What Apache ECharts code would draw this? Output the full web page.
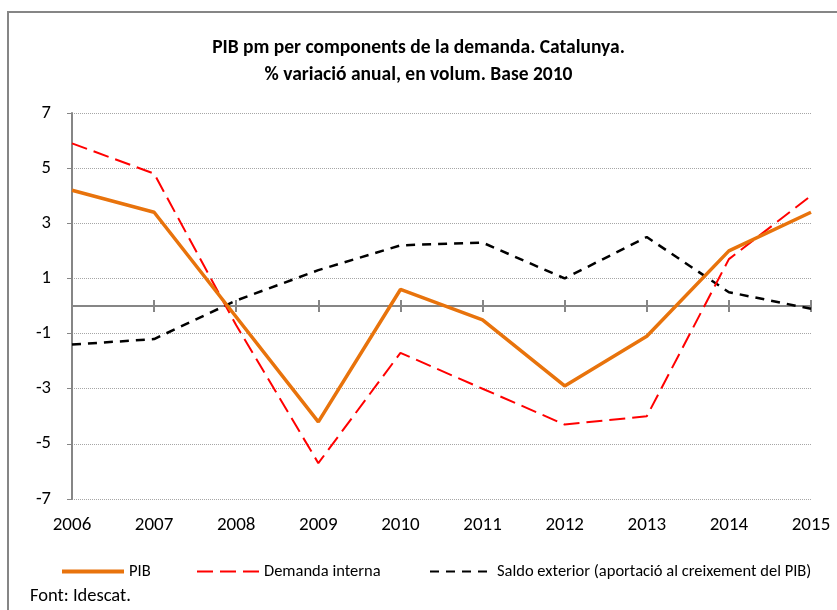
<!DOCTYPE html>
<html>
<head>
<meta charset="utf-8">
<script src="https://cdn.jsdelivr.net/npm/echarts@6/dist/echarts.min.js"></script>
<style>
  html, body { margin: 0; padding: 0; background: #fff; }
  #chart { width: 837px; height: 610px; }
</style>
</head>
<body>
<div id="chart"></div>
<script>
// dades
const years = ['2006', '2007', '2008', '2009', '2010', '2011', '2012', '2013', '2014', '2015']
const pib = [4.2, 3.4, -0.4, -4.2, 0.6, -0.5, -2.9, -1.1, 2.0, 3.4]
const demandaInterna = [5.9, 4.8, -0.7, -5.7, -1.7, -3.0, -4.3, -4.0, 1.7, 4.0]
const saldoExterior = [-1.4, -1.2, 0.2, 1.3, 2.2, 2.3, 1.0, 2.5, 0.5, -0.1]
const yTicks = [-7, -5, -3, -1, 1, 3, 5, 7]

const FONT = "Carlito, 'Liberation Sans Narrow', 'Noto Sans', sans-serif"
const GREY = '#868686'

// l'eix de categories passa pel zero: meitat de l'alçada del grid (-7..7)
const GRID_TOP = 113
const GRID_BOTTOM = 111
const ZERO_OFFSET = -(610 - GRID_TOP - GRID_BOTTOM) / 2

const chart = echarts.init(document.getElementById('chart'))

let option = {
  animation: false,
  textStyle: { fontFamily: FONT },
  title: {
    text: 'PIB pm per components de la demanda. Catalunya.\n% variació anual, en volum. Base 2010',
    left: 'center',
    top: 30,
    textStyle: {
      fontFamily: FONT,
      fontSize: 19.5,
      fontWeight: 'bold',
      color: '#000',
      lineHeight: 27
    }
  },
  graphic: [
    {
      type: 'rect',
      shape: { x: 8, y: 12, width: 900, height: 700 },
      style: { fill: 'none', stroke: GREY, lineWidth: 2 },
      silent: true
    },
    {
      type: 'text',
      left: 30,
      top: 587,
      style: { text: 'Font: Idescat.', font: '18.5px ' + FONT, fill: '#000' }
    }
  ],
  legend: [
    { data: ['PIB'], left: 55, lineStyle: { width: 4 } },
    { data: ['Demanda interna'], left: 191 },
    { data: ['Saldo exterior (aportació al creixement del PIB)'], left: 424 }
  ].map(l => Object.assign(l, {
    top: 558,
    itemWidth: 62,
    itemHeight: 14,
    itemGap: 0,
    itemStyle: { opacity: 0 },
    textStyle: { fontFamily: FONT, fontSize: 16.5, color: '#000' }
  })),
  grid: {
    left: 72,
    right: 26,
    top: GRID_TOP,
    bottom: GRID_BOTTOM,
    containLabel: false
  },
  xAxis: [
    {
      // eix a zero, marques cap avall
      type: 'category',
      data: years,
      boundaryGap: false,
      position: 'bottom',
      offset: ZERO_OFFSET,
      axisLine: { onZero: false, lineStyle: { color: GREY, width: 2 } },
      axisTick: { show: true, interval: 0, length: 6, lineStyle: { color: GREY, width: 2 } },
      axisLabel: { show: false },
      splitLine: { show: false }
    },
    {
      // marques cap amunt
      type: 'category',
      data: years,
      boundaryGap: false,
      position: 'top',
      offset: ZERO_OFFSET,
      axisLine: { onZero: false, lineStyle: { color: GREY, width: 2 } },
      axisTick: { show: true, interval: 0, length: 6, lineStyle: { color: GREY, width: 2 } },
      axisLabel: { show: false }
    },
    {
      // etiquetes a baix
      type: 'category',
      data: years,
      boundaryGap: false,
      position: 'bottom',
      axisLine: { onZero: false, show: false },
      axisTick: { show: false },
      axisLabel: { color: '#000', fontSize: 19, margin: 17, fontFamily: FONT }
    }
  ],
  yAxis: {
    type: 'value',
    min: -7,
    max: 7,
    interval: 2,
    axisLine: { show: true, lineStyle: { color: GREY, width: 2 } },
    axisTick: { show: true, length: 5, lineStyle: { color: GREY, width: 1 } },
    axisLabel: {
      color: '#000',
      fontSize: 18.5,
      margin: 21,
      fontFamily: FONT,
      formatter: v => (yTicks.indexOf(v) >= 0 ? String(v) : '')
    },
    splitLine: { show: true, lineStyle: { color: '#a6a6a6', type: [1, 1], width: 1 } }
  },
  series: [
    {
      name: 'Saldo exterior (aportació al creixement del PIB)',
      type: 'line',
      data: saldoExterior,
      showSymbol: false,
      symbol: 'none',
      lineStyle: { color: '#000', width: 2.5, type: [9, 7] },
      itemStyle: { color: '#000' },
      z: 3
    },
    {
      name: 'Demanda interna',
      type: 'line',
      data: demandaInterna,
      showSymbol: false,
      symbol: 'none',
      lineStyle: { color: '#ff0000', width: 2, type: [16, 7] },
      itemStyle: { color: '#ff0000' },
      z: 4
    },
    {
      name: 'PIB',
      type: 'line',
      data: pib,
      showSymbol: false,
      symbol: 'none',
      lineStyle: { color: '#e8730c', width: 3.5 },
      itemStyle: { color: '#e8730c' },
      z: 5
    }
  ]
}
chart.setOption(option)
window.addEventListener('resize', () => {
  chart.resize()
})
</script>
</body>
</html>
